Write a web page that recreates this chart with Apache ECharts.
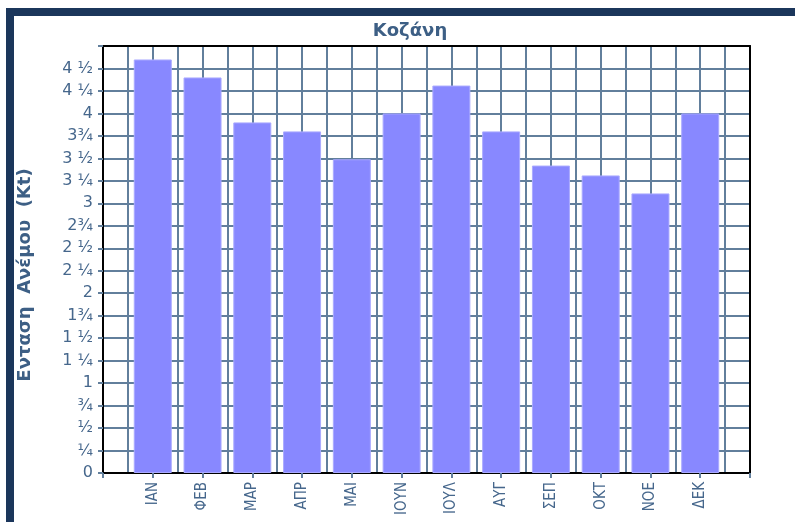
<!DOCTYPE html>
<html>
<head>
<meta charset="utf-8">
<script src="https://cdn.jsdelivr.net/npm/echarts@6/dist/echarts.min.js"></script>
<style>
  html, body { margin: 0; padding: 0; background: #fff; }
  #main { width: 795px; height: 526px; }
</style>
</head>
<body>
<div id="main"></div>
<script>
    // μήνες
    var months = ['ΙΑΝ', 'ΦΕΒ', 'ΜΑΡ', 'ΑΠΡ', 'ΜΑΙ', 'ΙΟΥΝ', 'ΙΟΥΛ', 'ΑΥΓ', 'ΣΕΠ', 'ΟΚΤ', 'ΝΟΕ', 'ΔΕΚ'];

    // ένταση ανέμου (Kt)
    var windSpeed = [4.60, 4.40, 3.90, 3.80, 3.49, 4.00, 4.31, 3.80, 3.42, 3.31, 3.11, 4.00];

    // ετικέτες άξονα y ανά 1/4
    var yTickLabels = ['0', '¼', '½', '¾', '1', '1 ¼', '1 ½', '1¾', '2', '2 ¼', '2 ½', '2¾',
                       '3', '3 ¼', '3 ½', '3¾', '4', '4 ¼', '4 ½', ''];

    var textColor = '#46678c';
    var gridColor = '#627f9c';

    var barData = [];
    for (var i = 0; i < windSpeed.length; i++) {
        barData.push([i + 1, windSpeed[i]]);
    }

    var myChart = echarts.init(document.getElementById('main'));

    var option = {
        backgroundColor: '#fff',
        animation: false,
        title: {
            text: 'Κοζάνη',
            left: 405,
            textAlign: 'center',
            top: 17,
            textStyle: { color: '#3d5f85', fontSize: 18, fontWeight: 'bold', fontFamily: 'DejaVu Sans' }
        },
        graphic: [
            { type: 'rect', shape: { x: 6, y: 8, width: 789, height: 8 }, style: { fill: '#1b365b' } },
            { type: 'rect', shape: { x: 6, y: 8, width: 8, height: 514 }, style: { fill: '#1b365b' } },
            {
                type: 'text', x: 25, y: 275, rotation: Math.PI / 2,
                style: {
                    text: 'Ενταση  Ανέμου  (Kt)', fill: '#3d5f85',
                    font: 'bold 18px "DejaVu Sans"', align: 'center', verticalAlign: 'middle'
                }
            }
        ],
        grid: { left: 103, right: 45, top: 46, bottom: 53 },
        xAxis: [{
            type: 'value', min: 0, max: 13, interval: 1,
            axisLine: { show: true, lineStyle: { color: '#000', width: 2 } },
            axisTick: { show: true, length: 5, lineStyle: { color: gridColor, width: 2 } },
            axisLabel: {
                rotate: 90, margin: 9, color: textColor, fontSize: 15, fontFamily: 'DejaVu Sans Condensed',
                formatter: function (v) { return (v >= 1 && v <= 12) ? months[v - 1] : ''; }
            },
            splitLine: { show: true, lineStyle: { color: gridColor, width: 2 } },
            minorTick: { show: false, splitNumber: 2 },
            minorSplitLine: { show: true, lineStyle: { color: gridColor, width: 2 } }
        }, {
            type: 'value', position: 'top', min: 0, max: 13,
            axisLine: { show: true, onZero: false, lineStyle: { color: '#000', width: 2 } },
            axisTick: { show: false }, axisLabel: { show: false }, splitLine: { show: false }
        }],
        yAxis: [{
            type: 'value', min: 0, max: 4.75, interval: 0.25,
            axisLine: { show: true, lineStyle: { color: '#000', width: 2 } },
            axisTick: { show: true, length: 5, lineStyle: { color: gridColor, width: 2 } },
            axisLabel: {
                margin: 10, color: textColor, fontSize: 16, fontFamily: 'DejaVu Sans',
                formatter: function (v) { return yTickLabels[Math.round(v / 0.25)]; }
            },
            splitLine: { show: true, lineStyle: { color: gridColor, width: 2 } }
        }, {
            type: 'value', position: 'right', min: 0, max: 4.75,
            axisLine: { show: true, onZero: false, lineStyle: { color: '#000', width: 2 } },
            axisTick: { show: false }, axisLabel: { show: false }, splitLine: { show: false }
        }],
        series: [{
            name: 'Ένταση',
            type: 'bar',
            barWidth: 38,
            data: barData,
            itemStyle: { color: '#8888ff', borderColor: '#aaaaff', borderWidth: 1 }
        }]
    };

    myChart.setOption(option);
</script>
</body>
</html>
